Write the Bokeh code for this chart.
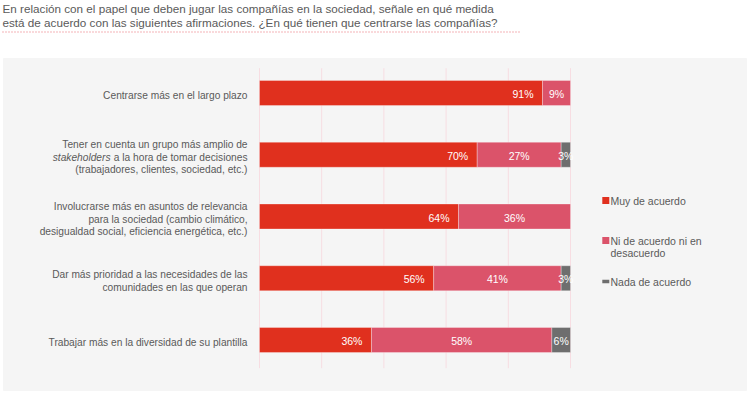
from bokeh.plotting import figure
from bokeh.models import Range1d, ColumnDataSource
from bokeh.core.properties import value
from bokeh.embed import file_html
from bokeh.resources import INLINE

# ---------------- data ----------------
title_lines = [
    "En relación con el papel que deben jugar las compañías en la sociedad, señale en qué medida",
    "está de acuerdo con las siguientes afirmaciones. ¿En qué tienen que centrarse las compañías?",
]
categories = [
    "Centrarse más en el largo plazo",
    "Tener en cuenta un grupo más amplio de\nstakeholders a la hora de tomar decisiones\n(trabajadores, clientes, sociedad, etc.)",
    "Involucrarse más en asuntos de relevancia\npara la sociedad (cambio climático,\ndesigualdad social, eficiencia energética, etc.)",
    "Dar más prioridad a las necesidades de las\ncomunidades en las que operan",
    "Trabajar más en la diversidad de su plantilla",
]
italic_word = "stakeholders"
muy = [91, 70, 64, 56, 36]
ni = [9, 27, 36, 41, 58]
nada = [0, 3, 0, 3, 6]
series_names = ["Muy de acuerdo", "Ni de acuerdo ni en\ndesacuerdo", "Nada de acuerdo"]
series_colors = ["#E0301E", "#DB536A", "#6E6E6E"]
x_ticks = [0, 20, 40, 60, 80, 100]

# ---------------- layout helpers ----------------
W, H = 750, 394
X0 = 259.0          # canvas px of 0 %
PX_PER_PCT = 3.11
ROW0 = 92.5         # canvas px of first row centre
ROW = 61.75         # px per row
LINE_H = 12.5 / ROW
FONT = value("Liberation Sans")
TXT = "#5a5a5a"


def dx(px):
    return (px - X0) / PX_PER_PCT


def dy(py):
    return (py - ROW0) / ROW


p = figure(width=W, height=H, x_range=Range1d(dx(0), dx(W)),
           y_range=Range1d(dy(H), dy(0)), output_backend="svg",
           toolbar_location=None, min_border=0, outline_line_color=None,
           x_axis_location=None, y_axis_location=None)
p.grid.visible = False
p.background_fill_color = "white"
p.border_fill_color = "white"

# panel
p.quad(left=dx(3), right=dx(746), top=dy(58), bottom=dy(390), color="#f5f5f5")

# title
p.text(x=[dx(2)] * 2, y=[dy(8), dy(22)], text=title_lines, text_font=FONT,
       text_font_size="11.7px", text_color=TXT, text_align="left",
       text_baseline="middle")
p.segment(x0=dx(2), y0=dy(31.5), x1=dx(520), y1=dy(31.5), line_color="#e5454f",
          line_width=1, line_dash="1 2", line_alpha=0.8)

# grid lines
p.segment(x0=x_ticks, y0=[dy(67.7)] * len(x_ticks), x1=x_ticks,
          y1=[dy(367.7)] * len(x_ticks), line_color="#f7dde2", line_width=1)

# bars
idx = list(range(len(categories)))
lefts = [[0] * 5, muy, [a + b for a, b in zip(muy, ni)]]
vals = [muy, ni, nada]
for s in range(3):
    rows = [i for i in idx if vals[s][i] > 0]
    src = ColumnDataSource(dict(
        y=rows,
        left=[lefts[s][i] for i in rows],
        right=[lefts[s][i] + vals[s][i] for i in rows],
        lab=[f"{vals[s][i]}%" for i in rows],
        mid=[lefts[s][i] + vals[s][i] / 2 for i in rows],
    ))
    p.hbar(y="y", left="left", right="right", height=0.405, source=src,
           fill_color=series_colors[s], line_color="white", line_width=0.6,
           line_alpha=0.5)
    if s == 0:
        p.text(x="right", y="y", text="lab", source=src, x_offset=-9, y_offset=1,
               text_align="right", text_baseline="middle", text_color="white",
               text_font=FONT, text_font_size="10.5px")
    else:
        p.text(x="mid", y="y", text="lab", source=src, y_offset=1,
               text_align="center", text_baseline="middle", text_color="white",
               text_font=FONT, text_font_size="10.5px")

# category labels
xs, ys, ts = [], [], []
ix, iy, it = [], [], []
for i, cat in enumerate(categories):
    lines = cat.split("\n")
    n = len(lines)
    for k, ln in enumerate(lines):
        yy = i + (k - (n - 1) / 2) * LINE_H + 2.5 / ROW
        if ln.startswith(italic_word):
            ix.append(0); iy.append(yy); it.append(italic_word)
            ln = ln[len(italic_word):].strip()
        xs.append(0); ys.append(yy); ts.append(ln)
p.text(x=xs, y=ys, text=ts, x_offset=-12, text_align="right",
       text_baseline="middle", text_color=TXT, text_font=FONT,
       text_font_size="10.2px")
p.text(x=ix, y=iy, text=it, x_offset=-149, text_align="right",
       text_baseline="middle", text_color=TXT, text_font=FONT,
       text_font_size="10.2px", text_font_style="italic")

# legend
leg_x = dx(605.3)
leg_y = [dy(200), dy(240), dy(281)]
leg_h = [7, 7, 3.5]
for s in range(3):
    p.rect(x=leg_x, y=leg_y[s], width=7, height=leg_h[s], width_units="screen",
           height_units="screen", fill_color=series_colors[s], line_color=None)
    lines = series_names[s].split("\n")
    p.text(x=[dx(610)] * len(lines),
           y=[leg_y[s] + k * 12 / ROW for k in range(len(lines))],
           text=lines, text_align="left", text_baseline="middle",
           text_color=TXT, text_font=FONT, text_font_size="10.5px")

open("out.html", "w").write(file_html(p, INLINE))
